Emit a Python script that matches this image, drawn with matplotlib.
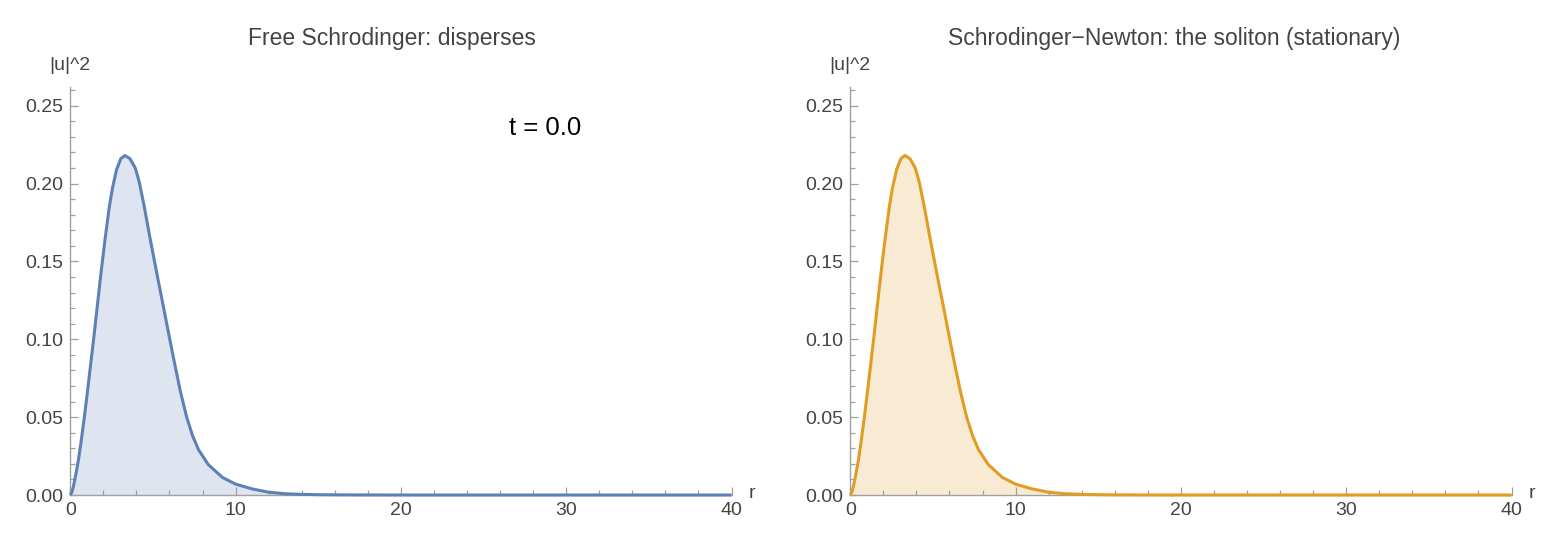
import numpy as np
import matplotlib
matplotlib.use("Agg")
import matplotlib.pyplot as plt
from matplotlib.ticker import MultipleLocator, FormatStrFormatter

plt.rcParams['font.family'] = ['Liberation Sans', 'DejaVu Sans']

# |u|^2 (both panels show the same profile at t = 0)
r_vals = [0, 0.1, 0.2, 0.35, 0.5, 0.65, 0.85, 1.0, 1.2, 1.41, 1.63, 1.85, 2.1, 2.36,
          2.55, 2.8, 3.06, 3.31, 3.61, 3.93, 4.17, 4.46, 4.84, 5.24, 5.63, 6.0, 6.3,
          6.65, 7.04, 7.4, 7.76, 8.35, 9.2, 10.0, 11.0, 12.0, 13.0, 14.0, 15.0, 16.0,
          18.0, 20.0, 25.0, 30.0, 35.0, 40.0]
u2_free = [0, 0.002, 0.006, 0.014, 0.023, 0.034, 0.050, 0.063, 0.081, 0.100, 0.121,
           0.142, 0.164, 0.185, 0.197, 0.209, 0.216, 0.218, 0.216, 0.210, 0.201, 0.186,
           0.164, 0.142, 0.121, 0.101, 0.085, 0.067, 0.050, 0.038, 0.029, 0.0195, 0.0113,
           0.007, 0.0039, 0.0018, 0.0008, 0.0004, 0.0002, 0.0001, 0.00002, 0, 0, 0, 0, 0]
u2_sn = list(u2_free)

titles = ["Free Schrodinger: disperses", "Schrodinger\u2212Newton: the soliton (stationary)"]
colors = ["#5E81B5", "#E19C24"]
series = [u2_free, u2_sn]
time_label = "t = 0.0"

W, H = 1560, 549
fig = plt.figure(figsize=(W / 100, H / 100), dpi=100)

axis_col = "#a0a0a0"
text_col = "#444444"
lefts = [70.3, 850.3]
title_x = [392, 1174]
for i in range(2):
    ax = fig.add_axes([lefts[i] / W, (H - 495) / H, 661.2 / W, 408 / H])
    ax.plot(r_vals, series[i], color=colors[i], lw=2.2, solid_capstyle='butt', clip_on=False, zorder=3)
    ax.fill_between(r_vals, series[i], 0, color=colors[i], alpha=0.2, lw=0)
    ax.set_xlim(0, 40)
    ax.set_ylim(0, 0.262)
    for s in ['top', 'right']:
        ax.spines[s].set_visible(False)
    for s in ['left', 'bottom']:
        ax.spines[s].set_color(axis_col)
        ax.spines[s].set_linewidth(1.0)
    ax.xaxis.set_major_locator(MultipleLocator(10))
    ax.xaxis.set_minor_locator(MultipleLocator(2))
    ax.yaxis.set_major_locator(MultipleLocator(0.05))
    ax.yaxis.set_minor_locator(MultipleLocator(0.01))
    ax.yaxis.set_major_formatter(FormatStrFormatter('%.2f'))
    ax.tick_params(which='both', direction='in', color=axis_col, width=0.9, labelsize=14, labelcolor=text_col)
    ax.tick_params(which='major', length=6, pad=5)
    ax.tick_params(which='minor', length=3.5)
    fig.text(title_x[i] / W, 1 - 38 / H, titles[i], ha='center', va='center', fontsize=16.5, color=text_col)
    fig.text((lefts[i] - 0.5) / W, 1 - 65 / H, "|u|^2", ha='center', va='center', fontsize=14, color=text_col)
    fig.text((lefts[i] + 682) / W, 1 - 494 / H, "r", ha='center', va='center', fontsize=14, color=text_col)

fig.text(545 / W, 1 - 128 / H, time_label, ha='center', va='center', fontsize=18.5, color='black')

fig.savefig("out.png", dpi=100)
